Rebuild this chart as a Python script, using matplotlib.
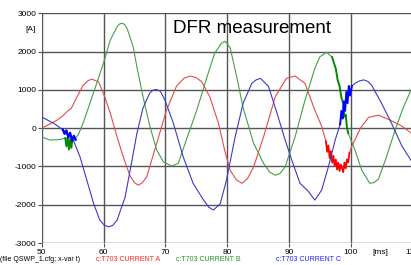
import numpy as np
import matplotlib.pyplot as plt

plt.rcParams['font.family'] = ['Liberation Sans', 'DejaVu Sans']

# current A (red), time in ms, current in A
t_a = [50, 51, 52.4, 53.5, 54, 54.8, 55.6, 56.7, 57.5, 58.1, 59.2, 60, 61.1, 62.2,
       63.2, 64.3, 65.0, 65.6, 66.2, 67, 68.6, 70.2, 71.8, 73, 74, 75.0, 75.9, 77.2,
       78.6, 79.6, 80.5, 81.5, 82.4, 83.3, 84.3, 85.9, 87.8, 89.6, 91, 92.6, 94.2,
       95.3, 96.1]
i_a = [0, 80, 200, 330, 420, 520, 780, 1120, 1240, 1280, 1210, 910, 390, -230,
       -750, -1250, -1420, -1490, -1440, -1270, -400, 470, 1090, 1300, 1360, 1320, 1210,
       820, 130, -570, -1100, -1350, -1440, -1320, -1010, -230, 820, 1300, 1360, 1170,
       470, 50, -400]
t_a2 = [99.8, 100.2, 101.6, 102.9, 104.5, 106.4, 108.3, 110]
i_a2 = [-650, -470, 0, 280, 340, 210, 50, -150]
# noisy part of A
t_an = [96.0, 96.2, 96.4, 96.6, 96.8, 97.0, 97.2, 97.4, 97.6, 97.8, 98.0, 98.2,
        98.4, 98.6, 98.8, 99.0, 99.2, 99.4, 99.6, 99.8]
i_an = [-350, -620, -450, -780, -600, -900, -720, -980, -820, -1080, -900, -1120,
        -950, -1050, -1150, -900, -1050, -820, -900, -650]

# current B (green)
t_b = [50, 51.3, 52.9, 53.8, 55.1, 55.9, 56.7, 57.8, 58.9, 60, 61.1, 62.2, 62.6, 63,
       63.4, 63.8, 64.8, 65.4, 66.4, 67.5, 68.6, 69.7, 71, 72.1, 73.4, 75.1, 76.7, 78,
       79.1, 79.7, 80.5, 81.6, 82.6, 84.3, 85.9, 86.9, 87.8, 88.6, 89.4, 91, 92.6,
       94.2, 95, 96.1, 97.0]
i_b = [-230, -310, -300, -260, -310, -180, 130, 650, 1170, 1700, 2300, 2650, 2720, 2740,
       2710, 2610, 2130, 1600, 820, 50, -570, -880, -990, -920, -310, 470, 1310, 1960,
       2220, 2270, 2100, 1310, 530, -400, -920, -1150, -1230, -1180, -1010, -230, 720,
       1560, 1860, 1980, 1850]
t_b2 = [99.6, 100.7, 101.8, 103.1, 103.8, 104.5, 105.8, 107.2, 108.5, 110]
i_b2 = [-130, -570, -1100, -1440, -1420, -1330, -750, -50, 530, 1080]
# noisy parts of B
t_bn1 = [53.8, 54.0, 54.2, 54.4, 54.6, 54.8, 55.0, 55.2]
i_bn1 = [-260, -480, -250, -560, -300, -520, -280, -310]
t_bn2 = [97.0, 97.3, 97.6, 97.9, 98.2, 98.5, 98.8, 99.0, 99.2, 99.4, 99.6]
i_bn2 = [1850, 1700, 1550, 1250, 1100, 800, 650, 300, 350, 20, -130]

# current C (blue)
t_c = [50, 51.9, 53.5, 54.9, 56.2, 57.3, 58.4, 59.4, 60.1, 60.8, 61.5, 62.2, 63.5,
       64.6, 65.4, 66.4, 67.5, 68.0, 68.6, 69.2, 69.9, 71.3, 72.9, 74.5, 76.2, 77.0,
       77.8, 78.9, 79.9, 81.3, 82.6, 84, 84.7, 85.4, 86.7, 88.1, 89.4, 90.5, 91.8,
       93.2, 94.2, 95.3, 96.4, 97.5, 98.3]
i_c = [290, 130, -50, -230, -750, -1360, -1970, -2400, -2530, -2580, -2540, -2400,
       -1800, -850, -140, 530, 920, 990, 1010, 960, 750, 130, -750, -1440, -1880, -2060,
       -2140, -1970, -1360, -230, 650, 1170, 1260, 1300, 1090, 380, -310, -850, -1440,
       -1660, -1880, -1620, -1010, -310, 100]
t_c2 = [100.2, 100.7, 101.4, 102.1, 102.8, 103.4, 105, 106.6, 108.3, 110]
i_c2 = [1100, 1170, 1230, 1260, 1220, 1120, 650, 130, -470, -900]
# noisy parts of C
t_cn1 = [53.4, 53.7, 54.0, 54.3, 54.6, 54.9, 55.2, 55.5]
i_cn1 = [-40, -150, -60, -250, -120, -330, -200, -300]
t_cn2 = [98.3, 98.5, 98.7, 98.9, 99.1, 99.3, 99.5, 99.7, 99.9, 100.2]
i_cn2 = [100, 450, 250, 700, 450, 950, 650, 1100, 850, 1100]

x_ticks = [50, 60, 70, 80, 90, 100, 110]
y_ticks = [-3000, -2000, -1000, 0, 1000, 2000, 3000]

c_a, c_an = '#e34b4b', '#ff0000'
c_b, c_bn = '#45a045', '#008a00'
c_c, c_cn = '#3b3bc4', '#0000ff'

fig = plt.figure(figsize=(4.11, 2.65), dpi=100)
ax = fig.add_axes([0.1015, 0.083, 0.902, 0.867])

lw = 0.8
ax.plot(t_a, i_a, color=c_a, lw=lw)
ax.plot(t_a2, i_a2, color=c_a, lw=lw)
ax.plot(t_an, i_an, color=c_an, lw=1.3)
ax.plot(t_b, i_b, color=c_b, lw=lw)
ax.plot(t_b2, i_b2, color=c_b, lw=lw)
ax.plot(t_bn1, i_bn1, color=c_bn, lw=1.3)
ax.plot(t_bn2, i_bn2, color=c_bn, lw=1.4)
ax.plot(t_c, i_c, color=c_c, lw=lw)
ax.plot(t_c2, i_c2, color=c_c, lw=lw)
ax.plot(t_cn1, i_cn1, color=c_cn, lw=1.6)
ax.plot(t_cn2, i_cn2, color=c_cn, lw=1.4)

ax.set_xlim(50, 110)
ax.set_ylim(-3000, 3000)
ax.set_xticks(x_ticks)
ax.set_yticks(y_ticks)
ax.set_xticklabels([str(v) for v in x_ticks])
ax.set_yticklabels([str(v) for v in y_ticks])
ax.grid(True, color='#555555', lw=1.0)
ax.set_axisbelow(True)
for s in ax.spines.values():
    s.set_visible(False)
ax.tick_params(axis='both', labelsize=6, length=3, width=0.8, color='#555555', pad=1)

ax.text(71.3, 2480, 'DFR measurement', fontsize=13.5, ha='left', va='baseline')
fig.text(0.087, 0.89, '[A]', fontsize=6, ha='right', va='center')
fig.text(0.905, 0.048, '[ms]', fontsize=6, ha='left', va='center')

fy = 0.022
fig.text(0.0, fy, '(file QSWP_1.cfg; x-var t)', fontsize=5, color='black', va='center')
fig.text(0.234, fy, 'c:T703 CURRENT A', fontsize=5, color='#ff2020', va='center')
fig.text(0.428, fy, 'c:T703 CURRENT B', fontsize=5, color='#209020', va='center')
fig.text(0.672, fy, 'c:T703 CURRENT C', fontsize=5, color='#2020ff', va='center')

fig.savefig('out.png', dpi=100)
